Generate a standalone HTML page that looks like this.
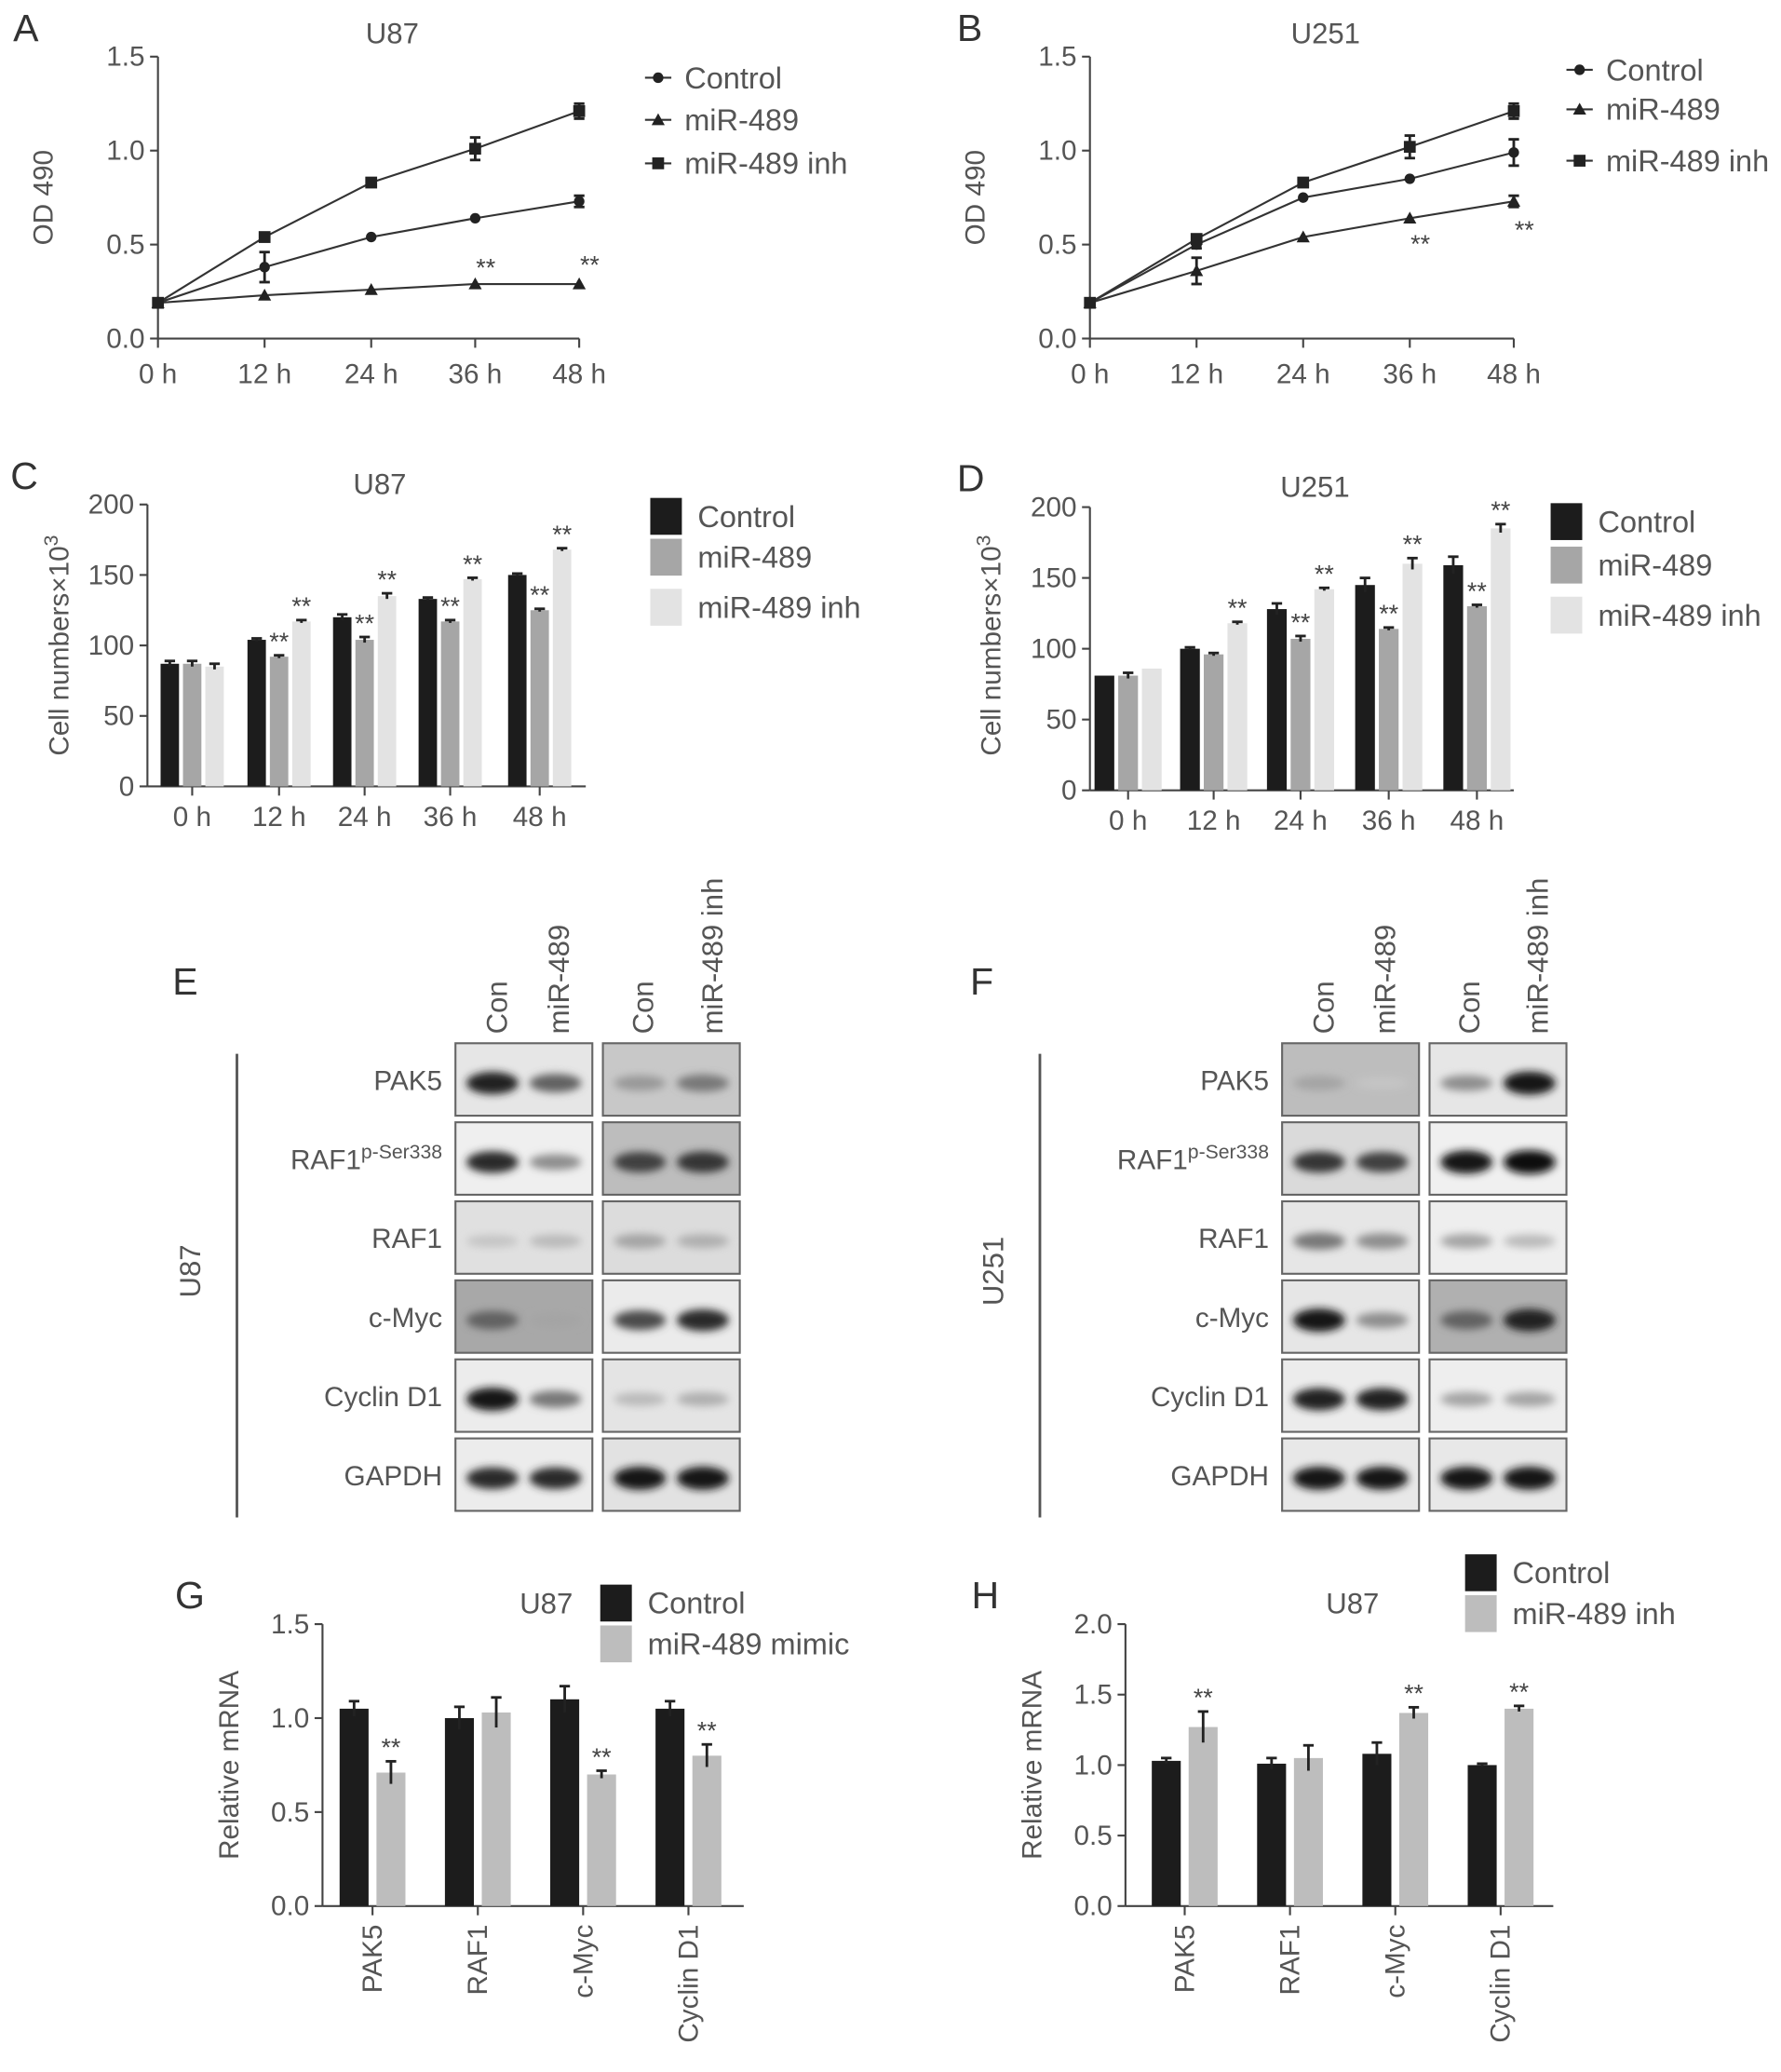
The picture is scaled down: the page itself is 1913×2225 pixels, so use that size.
<!DOCTYPE html>
<html><head><meta charset="utf-8"><style>
html,body{margin:0;padding:0;background:#fff;}
svg{display:block;font-family:"Liberation Sans",sans-serif;}
</style></head><body>
<svg id="fig" width="1913" height="2225" viewBox="0 0 1353 1573" preserveAspectRatio="none" xmlns="http://www.w3.org/2000/svg">
<defs><filter id="bl" x="-20%" y="-50%" width="140%" height="200%"><feGaussianBlur stdDeviation="3"/></filter></defs>
</svg>
<script>
// ---------- data ----------
const timeLabels = ["0 h","12 h","24 h","36 h","48 h"];
const aControl = [0.19,0.38,0.54,0.64,0.73];
const aControlErr = [0,0.08,0.01,0.01,0.03];
const aMir = [0.19,0.23,0.26,0.29,0.29];
const aMirErr = [0,0.01,0.01,0.01,0.01];
const aInh = [0.19,0.54,0.83,1.01,1.21];
const aInhErr = [0,0.01,0.01,0.06,0.04];
const bControl = [0.19,0.50,0.75,0.85,0.99];
const bControlErr = [0,0.02,0.01,0.01,0.07];
const bMir = [0.19,0.36,0.54,0.64,0.73];
const bMirErr = [0,0.07,0.01,0.01,0.03];
const bInh = [0.19,0.53,0.83,1.02,1.21];
const bInhErr = [0,0.01,0.01,0.06,0.04];
const odTicks = [0,0.5,1.0,1.5];
const cControl = [87,104,120,133,150];
const cMir = [87,92,104,117,125];
const cInh = [85,117,135,147,168];
const cErr = [2,1,2,1,1];
const dControl = [81,100,128,145,159];
const dControlErr = [0,1,4,5,6];
const dMir = [81,96,107,114,130];
const dInh = [86,118,142,160,185];
const dInhErr = [0,1,1,4,3];
const cellTicks = [0,50,100,150,200];
const geneLabels = ["PAK5","RAF1","c-Myc","Cyclin D1"];
const gControl = [1.05,1.00,1.10,1.05];
const gControlErr = [0.04,0.06,0.07,0.04];
const gMimic = [0.71,1.03,0.70,0.80];
const gMimicErr = [0.06,0.08,0.02,0.06];
const hControl = [1.03,1.01,1.08,1.00];
const hControlErr = [0.02,0.04,0.08,0.01];
const hInh = [1.27,1.05,1.37,1.40];
const hInhErr = [0.11,0.09,0.04,0.02];
const blotRows = ["PAK5","RAF1","RAF1","c-Myc","Cyclin D1","GAPDH"];

const NS="http://www.w3.org/2000/svg", svg=document.getElementById('fig');
function el(tag,attrs,parent,text){const e=document.createElementNS(NS,tag);for(const k in attrs)e.setAttribute(k,attrs[k]);if(text!==undefined)e.textContent=text;(parent||svg).appendChild(e);return e;}
const TC="#555", FS=21;

function axes(g,ox,y0,y1,ticks,ymax,fmt){
  const ys=v=>y0-(v/ymax)*(y0-y1);
  const ya=el('line',{x1:ox,y1:y0,x2:ox,y2:y1,stroke:'#444','stroke-width':1.5},g);
  
  ticks.forEach(t=>{el('line',{x1:ox-6,y1:ys(t),x2:ox,y2:ys(t),stroke:'#444','stroke-width':1.5},g);
    const tl=el('text',{x:ox-10,y:ys(t)+7,'text-anchor':'end','font-size':FS,fill:TC},g,fmt(t));
    });
  return ys;
}
function lineChart(id,ox,xs,y0,y1,series,title,letter,letX,lx,ly,stars){
  const g=el('g',{});
  el('text',{x:letX,y:y1-12,'font-size':29,fill:'#333'},g,letter);
  el('text',{x:(ox+xs[4])/2+18,y:y1-10,'text-anchor':'middle','font-size':22,fill:TC},g,title);
  const ys=axes(g,ox,y0,y1,odTicks,1.5,t=>t.toFixed(1));
  el('line',{x1:ox,y1:y0,x2:xs[4],y2:y0,stroke:'#444','stroke-width':1.5},g);
  xs.forEach((x,i)=>{el('line',{x1:x,y1:y0,x2:x,y2:y0+7,stroke:'#444','stroke-width':1.5},g);
    el('text',{x:x,y:y0+34,'text-anchor':'middle','font-size':FS,fill:TC},g,timeLabels[i]);});
  const yt=el('text',{x:0,y:0,'text-anchor':'middle','font-size':21,fill:TC,transform:`translate(${ox-80},${(y0+y1)/2}) rotate(-90)`},g,'OD 490');
  
  series.forEach((s,si)=>{
    const pts=s.v.map((v,i)=>xs[i]+','+ys(v)).join(' ');
    const pl=el('polyline',{points:pts,fill:'none',stroke:'#333','stroke-width':1.5},g);
    
    s.v.forEach((v,i)=>{
      if(s.e[i]>0.015){el('line',{x1:xs[i],y1:ys(v-s.e[i]),x2:xs[i],y2:ys(v+s.e[i]),stroke:'#222','stroke-width':2},g);
        [v-s.e[i],v+s.e[i]].forEach(w=>el('line',{x1:xs[i]-4,y1:ys(w),x2:xs[i]+4,y2:ys(w),stroke:'#222','stroke-width':2},g));}
      marker(g,s.m,xs[i],ys(v));
    });
    const ly2=ly[si];
    el('line',{x1:lx,y1:ly2,x2:lx+20,y2:ly2,stroke:'#333','stroke-width':1.5},g);
    marker(g,s.m,lx+10,ly2);
    const lt=el('text',{x:lx+30,y:ly2+8,'font-size':23,fill:TC},g,s.name);
    
  });
  stars.forEach(([i,v,dy])=>el('text',{x:xs[i]+8,y:ys(v)+dy,'text-anchor':'middle','font-size':19,fill:'#444'},g,'**'));
}
function marker(g,m,x,y){
  let e;
  if(m==='c')e=el('circle',{cx:x,cy:y,r:4,fill:'#222'},g);
  else if(m==='t')e=el('polygon',{points:`${x},${y-5} ${x-5},${y+4} ${x+5},${y+4}`,fill:'#222'},g);
  else e=el('rect',{x:x-4.5,y:y-4.5,width:9,height:9,fill:'#222'},g);
  
}
lineChart('panel-a',120,[120,201,282,361,440],257,43,[
  {name:'Control',v:aControl,e:aControlErr,m:'c'},
  {name:'miR-489',v:aMir,e:aMirErr,m:'t'},
  {name:'miR-489 inh',v:aInh,e:aInhErr,m:'s'}],'U87','A',10,490,[59,91,124],[[3,aMir[3],-6],[4,aMir[4],-8]]);
lineChart('panel-b',828,[828,909,990,1071,1150],257,43,[
  {name:'Control',v:bControl,e:bControlErr,m:'c'},
  {name:'miR-489',v:bMir,e:bMirErr,m:'t'},
  {name:'miR-489 inh',v:bInh,e:bInhErr,m:'s'}],'U251','B',727,1190,[53,83,122],[[3,bMir[3],26],[4,bMir[4],28]]);

function barChart(id,letter,letX,title,ox,xright,centers,labels,y0,y1,ymax,ticks,series,bw,gap,ytitle,legend,fmt,rotLabels){
  const g=el('g',{});
  const ys=axes(g,ox,y0,y1,ticks,ymax,fmt);
  el('line',{x1:ox,y1:y0,x2:xright,y2:y0,stroke:'#444','stroke-width':1.5},g);
  const n=series.length;
  centers.forEach((c,i)=>{
    el('line',{x1:c,y1:y0,x2:c,y2:y0+7,stroke:'#444','stroke-width':1.5},g);
    if(rotLabels) el('text',{x:0,y:0,'text-anchor':'end','font-size':FS,fill:TC,transform:`translate(${c+7},${y0+14}) rotate(-90)`},g,labels[i]);
    else el('text',{x:c,y:y0+30,'text-anchor':'middle','font-size':FS,fill:TC},g,labels[i]);
    series.forEach((s,si)=>{
      const x=c+(si-(n-1)/2)*(bw+gap)-bw/2, v=s.v[i], e=s.e[i];
      const r=el('rect',{x:x,y:ys(v),width:bw,height:y0-ys(v),fill:s.c},g);
      
      if(e>0){el('line',{x1:x+bw/2,y1:ys(v-e),x2:x+bw/2,y2:ys(v+e),stroke:'#222','stroke-width':2},g);
        el('line',{x1:x+bw/2-4,y1:ys(v+e),x2:x+bw/2+4,y2:ys(v+e),stroke:'#222','stroke-width':2},g);}
      if(s.star&&s.star[i]) el('text',{x:x+bw/2,y:ys(v+e)-4,'text-anchor':'middle','font-size':19,fill:'#444'},g,'**');
    });
  });
  el('text',{x:letX,y:y1-12,'font-size':29,fill:'#333'},g,letter);
  el('text',{x:(ox+xright)/2+10,y:y1-8,'text-anchor':'middle','font-size':22,fill:TC},g,title);
  if(ytitle){const yt=el('text',{x:0,y:0,'text-anchor':'middle','font-size':21,fill:TC,transform:`translate(${ox-64},${(y0+y1)/2}) rotate(-90)`},g,ytitle);
  }
  legend.items.forEach((it,k)=>{
    el('rect',{x:legend.x,y:legend.y[k]-14,width:24,height:28,fill:it.c},g);
    const lt=el('text',{x:legend.x+36,y:legend.y[k]+8,'font-size':23,fill:TC},g,it.t);
    
  });
  return g;
}
function cellTitle(g,x){
  const t=el('text',{x:0,y:0,'text-anchor':'middle','font-size':21,fill:TC,transform:`translate(${x},490) rotate(-90)`},g,'Cell numbers×10');
  el('tspan',{dy:-8,'font-size':15},t,'3');
  
}
const K='#1c1c1c',M='#a6a6a6',L='#e3e3e3',G2='#bdbdbd';
const cg=barChart('panel-c','C',8,'U87',112,445,[146,212,277,342,410],timeLabels,597,383,200,cellTicks,[
  {key:'control',v:cControl,e:cErr,c:K},
  {key:'mir',v:cMir,e:cErr,c:M,star:[0,1,1,1,1]},
  {key:'inh',v:cInh,e:cErr,c:L,star:[0,1,1,1,1]}],14,3,'',{x:494,y:[392,423,461],items:[{t:'Control',c:K},{t:'miR-489',c:M},{t:'miR-489 inh',c:L}]},t=>t);
cellTitle(cg,52);
const dg=barChart('panel-d','D',727,'U251',828,1150,[857,922,988,1055,1122],timeLabels,600,385,200,cellTicks,[
  {key:'control',v:dControl,e:dControlErr,c:K},
  {key:'mir',v:dMir,e:cErr,c:M,star:[0,0,1,1,1]},
  {key:'inh',v:dInh,e:dInhErr,c:L,star:[0,1,1,1,1]}],15,3,'',{x:1178,y:[396,429,467],items:[{t:'Control',c:K},{t:'miR-489',c:M},{t:'miR-489 inh',c:L}]},t=>t);
cellTitle(dg,760);

barChart('panel-g','G',133,'U87',245,565,[283,363,443,523],geneLabels,1447,1233,1.5,[0,0.5,1.0,1.5],[
  {key:'control',v:gControl,e:gControlErr,c:K},
  {key:'mimic',v:gMimic,e:gMimicErr,c:G2,star:[1,0,1,1]}],22,6,'Relative mRNA',{x:456,y:[1217,1248],items:[{t:'Control',c:K},{t:'miR-489 mimic',c:G2}]},t=>t.toFixed(1),true);
barChart('panel-h','H',738,'U87',855,1180,[900,980,1060,1140],geneLabels,1447,1233,2.0,[0,0.5,1.0,1.5,2.0],[
  {key:'control',v:hControl,e:hControlErr,c:K},
  {key:'inh',v:hInh,e:hInhErr,c:G2,star:[1,0,1,1]}],22,6,'Relative mRNA',{x:1113,y:[1194,1225],items:[{t:'Control',c:K},{t:'miR-489 inh',c:G2}]},t=>t.toFixed(1),true);

// ---------- western blots ----------
const blotE = {bg:[["#e6e6e6","#c8c8c8"],["#efefef","#bdbdbd"],["#e0e0e0","#dcdcdc"],["#a8a8a8","#ebebeb"],["#ececec","#e4e4e4"],["#ececec","#e2e2e2"]],
  bands:[[[.9,.6],[.35,.5]],[[.85,.4],[.75,.8]],[[.15,.2],[.3,.25]],[[.6,.3],[.7,.85]],[[.95,.5],[.2,.25]],[[.85,.85],[.95,.95]]]};
const blotF = {bg:[["#bdbdbd","#e6e6e6"],["#dadada","#f0f0f0"],["#e6e6e6","#eeeeee"],["#e6e6e6","#b0b0b0"],["#ececec","#eeeeee"],["#e8e8e8","#e8e8e8"]],
  bands:[[[.3,.15],[.4,.95]],[[.8,.75],[.95,1]],[[.5,.4],[.3,.2]],[[.95,.4],[.6,.9]],[[.9,.9],[.3,.3]],[[.95,.95],[.95,.95]]]};
function blots(id,letter,lx,x1,x2,w,rows,data,cell,lineX,laneLabels){
  const g=el('g',{});
  el('text',{x:lx,y:755,'font-size':29,fill:'#333'},g,letter);
  el('line',{x1:lineX,y1:800,x2:lineX,y2:1152,stroke:'#555','stroke-width':2},g);
  el('text',{x:0,y:0,'text-anchor':'middle','font-size':22,fill:TC,transform:`translate(${lineX-28},965) rotate(-90)`},g,cell);
  laneLabels.forEach(([x,t])=>el('text',{x:0,y:0,'font-size':22,fill:TC,transform:`translate(${x},785) rotate(-90)`},g,t));
  rows.forEach((r,i)=>{
    const y=792+i*60, h=55;
    const lab=el('text',{x:x1-10,y:y+h/2+8,'text-anchor':'end','font-size':21,fill:TC},g,r);
    if(i===1){el('tspan',{dy:-8,'font-size':15},lab,'p-Ser338');}
    [x1,x2].forEach((bx,k)=>{
      const box=el('rect',{x:bx,y:y,width:w,height:h,fill:data.bg[i][k],stroke:'#666','stroke-width':1.5},g);
      
      data.bands[i][k].forEach((d,j)=>{
        const c=Math.round(230-220*d);
        el('ellipse',{cx:bx+w*(0.27+0.46*j),cy:y+h*0.55,rx:w*0.19,ry:4+5*d,fill:`rgb(${c},${c},${c})`,filter:'url(#bl)'},g);
      });
    });
  });
}
blots('panel-e-blot','E',131,346,458,104,blotRows,blotE,'U87',180,[[385,'Con'],[432,'miR-489'],[496,'Con'],[549,'miR-489 inh']]);
blots('panel-f-blot','F',737,974,1086,104,blotRows,blotF,'U251',790,[[1013,'Con'],[1060,'miR-489'],[1124,'Con'],[1176,'miR-489 inh']]);
</script>
</body></html>
